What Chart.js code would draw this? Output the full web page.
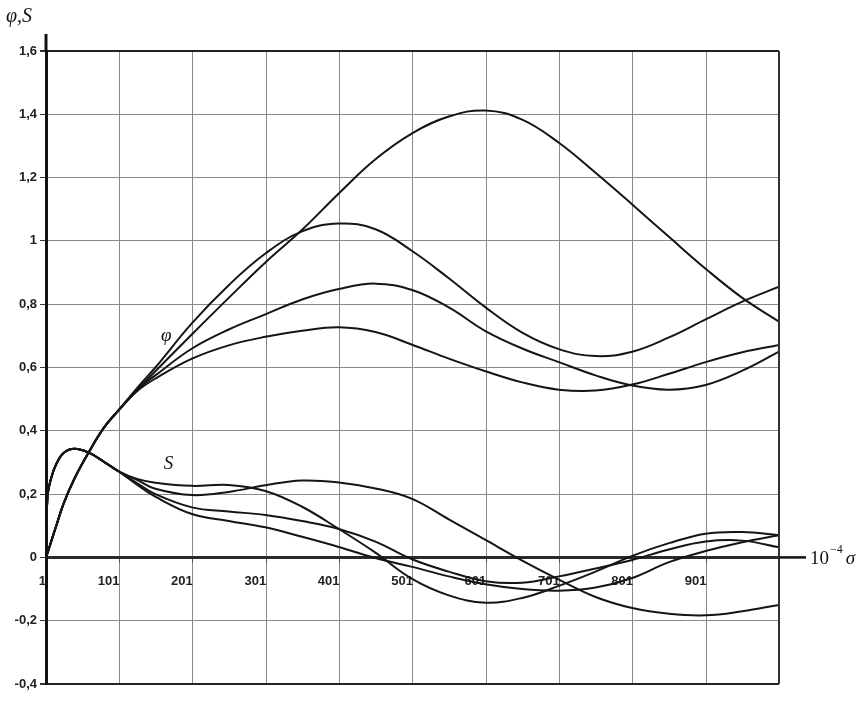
<!DOCTYPE html>
<html>
<head>
<meta charset="utf-8">
<script src="https://cdn.jsdelivr.net/npm/chart.js@4.4.1/dist/chart.umd.min.js"></script>
<style>
  html, body { margin: 0; padding: 0; background: #ffffff; }
  canvas { display: block; }
</style>
</head>
<body>
<canvas id="c" width="863" height="701"></canvas>
<script>
// ---- data ----
const xValues = [1, 3, 8, 15, 25, 40, 60, 80, 100, 125, 150, 200, 250, 300, 350, 400, 450, 500, 550, 600, 650, 700, 750, 800, 850, 900, 950, 1000];

const phiStart = [0, 0.013, 0.05, 0.10, 0.17, 0.25, 0.335, 0.41, 0.465];
const phi1 = phiStart.concat([0.528, 0.588, 0.705, 0.82, 0.932, 1.035, 1.15, 1.258, 1.34, 1.393, 1.412, 1.383, 1.31, 1.215, 1.115, 1.013, 0.912, 0.82, 0.745]);
const phi2 = phiStart.concat([0.535, 0.60, 0.74, 0.86, 0.96, 1.03, 1.055, 1.037, 0.968, 0.882, 0.79, 0.71, 0.658, 0.636, 0.65, 0.695, 0.752, 0.808, 0.855]);
const phi3 = phiStart.concat([0.53, 0.575, 0.66, 0.72, 0.768, 0.815, 0.848, 0.865, 0.845, 0.79, 0.715, 0.66, 0.617, 0.575, 0.543, 0.53, 0.545, 0.59, 0.65]);
const phi4 = phiStart.concat([0.525, 0.565, 0.628, 0.67, 0.697, 0.716, 0.727, 0.712, 0.672, 0.628, 0.588, 0.553, 0.53, 0.527, 0.546, 0.58, 0.617, 0.648, 0.671]);

const sStart = [0, 0.19, 0.25, 0.295, 0.33, 0.343, 0.33, 0.302, 0.272];
const sA = sStart.concat([0.248, 0.236, 0.226, 0.229, 0.21, 0.16, 0.09, 0.015, -0.068, -0.12, -0.143, -0.128, -0.09, -0.045, 0.005, 0.045, 0.075, 0.08, 0.07]);
const sB = sStart.concat([0.245, 0.217, 0.197, 0.207, 0.228, 0.243, 0.237, 0.218, 0.185, 0.12, 0.055, -0.01, -0.07, -0.125, -0.16, -0.178, -0.183, -0.17, -0.15]);
const sC = sStart.concat([0.235, 0.2, 0.158, 0.145, 0.134, 0.115, 0.09, 0.05, -0.006, -0.045, -0.075, -0.08, -0.06, -0.035, -0.008, 0.025, 0.05, 0.053, 0.032]);
const sD = sStart.concat([0.23, 0.192, 0.137, 0.115, 0.095, 0.065, 0.033, -0.002, -0.03, -0.06, -0.085, -0.1, -0.105, -0.095, -0.065, -0.015, 0.02, 0.048, 0.07]);

const xTicks = [1, 101, 201, 301, 401, 501, 601, 701, 801, 901];
const xTickLabels = ['1', '101', '201', '301', '401', '501', '601', '701', '801', '901'];
const yTicks = [-0.4, -0.2, 0, 0.2, 0.4, 0.6, 0.8, 1, 1.2, 1.4, 1.6];
const yTickLabels = ['-0,4', '-0,2', '0', '0,2', '0,4', '0,6', '0,8', '1', '1,2', '1,4', '1,6'];

const seriesList = [phi1, phi2, phi3, phi4, sA, sB, sC, sD];
const seriesNames = ['φ1', 'φ2', 'φ3', 'φ4', 'S1', 'S2', 'S3', 'S4'];

// ---- chart ----
const datasets = seriesList.map((vals, i) => ({
  label: seriesNames[i],
  data: xValues.map((x, j) => ({ x: x, y: vals[j] })),
  borderColor: '#151515',
  borderWidth: 2,
  pointRadius: 0,
  fill: false,
  tension: 0.4
}));

const tickFont = { family: '"Liberation Sans", Arial, sans-serif', size: 13, weight: 'bold' };

const decorations = {
  id: 'decorations',
  afterDraw(chart) {
    const ctx = chart.ctx;
    const a = chart.chartArea;
    const xs = chart.scales.x, ys = chart.scales.y;
    const y0 = ys.getPixelForValue(0);
    ctx.save();
    // right border of plot
    ctx.strokeStyle = '#333';
    ctx.lineWidth = 2;
    ctx.beginPath();
    ctx.moveTo(a.right, a.top);
    ctx.lineTo(a.right, a.bottom);
    ctx.stroke();
    // y axis extends above the plot
    ctx.strokeStyle = '#111';
    ctx.lineWidth = 3;
    ctx.beginPath();
    ctx.moveTo(a.left, a.top);
    ctx.lineTo(a.left, a.top - 17);
    ctx.stroke();
    // x axis (zero line) extends to the right of the plot
    ctx.strokeStyle = '#111';
    ctx.lineWidth = 2.5;
    ctx.beginPath();
    ctx.moveTo(a.right, y0);
    ctx.lineTo(a.right + 27, y0);
    ctx.stroke();
    // axis titles
    ctx.fillStyle = '#111';
    ctx.textBaseline = 'alphabetic';
    ctx.textAlign = 'left';
    ctx.font = 'italic 20px "Liberation Serif", "DejaVu Serif", serif';
    ctx.fillText('φ,S', 6, 22);
    // 10^-4 σ
    let tx = a.right + 31;
    ctx.font = '19px "Liberation Serif", "DejaVu Serif", serif';
    ctx.fillText('10', tx, y0 + 7);
    tx += ctx.measureText('10').width + 1;
    ctx.font = '12px "Liberation Serif", "DejaVu Serif", serif';
    ctx.fillText('−4', tx, y0 - 4);
    tx += ctx.measureText('−4').width + 3;
    ctx.font = 'italic 19px "Liberation Serif", "DejaVu Serif", serif';
    ctx.fillText('σ', tx, y0 + 7);
    // curve labels
    ctx.font = 'italic 19px "Liberation Serif", "DejaVu Serif", serif';
    ctx.textAlign = 'center';
    ctx.textBaseline = 'middle';
    ctx.fillText('φ', xs.getPixelForValue(165), ys.getPixelForValue(0.70));
    ctx.fillText('S', xs.getPixelForValue(168), ys.getPixelForValue(0.295));
    ctx.restore();
  }
};

new Chart(document.getElementById('c'), {
  type: 'line',
  data: { datasets: datasets },
  plugins: [decorations],
  options: {
    responsive: false,
    animation: false,
    devicePixelRatio: 1,
    layout: { padding: { top: 51, bottom: 17, left: 0, right: 84 } },
    plugins: { legend: { display: false }, tooltip: { enabled: false }, title: { display: false } },
    scales: {
      x: {
        type: 'linear',
        min: 1,
        max: 1000,
        position: { y: 0 },
        afterFit(s) { s.height = 0; },
        afterBuildTicks(s) { s.ticks = xTicks.map(v => ({ value: v })); },
        grid: { color: '#8a8a8a', lineWidth: 1, drawTicks: true, tickLength: 4, tickColor: '#555' },
        border: { display: true, color: '#2a2a2a', width: 3 },
        ticks: {
          align: 'end',
          padding: 12,
          maxRotation: 0,
          autoSkip: false,
          color: '#222',
          font: tickFont,
          callback: (v) => { const i = xTicks.indexOf(v); return i >= 0 ? xTickLabels[i] : ''; }
        }
      },
      y: {
        type: 'linear',
        min: -0.4,
        max: 1.6,
        afterFit(s) { s.width = 46; },
        afterBuildTicks(s) { s.ticks = yTicks.map(v => ({ value: v })); },
        grid: {
          color: (c) => (c.tick && (c.tick.value === 1.6 || c.tick.value === -0.4)) ? '#222' : '#8a8a8a',
          lineWidth: (c) => (c.tick && (c.tick.value === 1.6 || c.tick.value === -0.4)) ? 2 : 1,
          drawTicks: true,
          tickLength: 6,
          tickColor: '#333'
        },
        border: { display: true, color: '#111', width: 3 },
        ticks: {
          padding: 3,
          color: '#222',
          font: tickFont,
          autoSkip: false,
          callback: (v) => { const i = yTicks.findIndex(t => Math.abs(t - v) < 1e-9); return i >= 0 ? yTickLabels[i] : ''; }
        }
      }
    }
  }
});
</script>
</body>
</html>
